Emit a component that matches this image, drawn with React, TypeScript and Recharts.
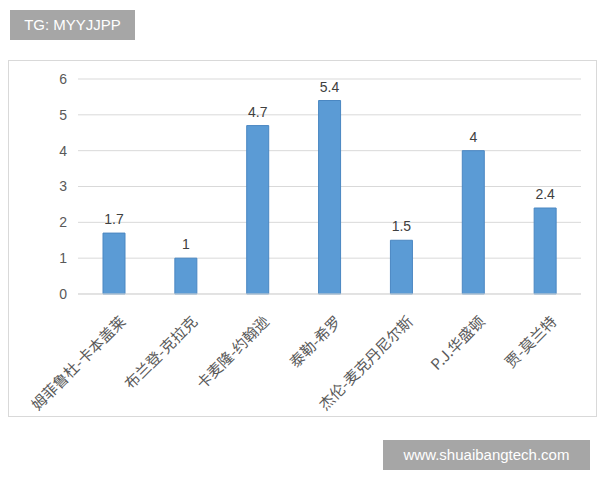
import React from 'react';
import { BarChart, Bar, XAxis, YAxis, CartesianGrid, LabelList } from 'recharts';

const players = ['姆菲鲁杜-卡本盖莱', '布兰登-克拉克', '卡麦隆-约翰逊', '泰勒-希罗', '杰伦-麦克丹尼尔斯', 'P.J.华盛顿', '贾-莫兰特'];
const values = [1.7, 1, 4.7, 5.4, 1.5, 4, 2.4];
const yTicks = [0, 1, 2, 3, 4, 5, 6];

const data = players.map((name, i) => ({ name, value: values[i] }));

const CJK = '"Noto Sans CJK SC", "Noto Sans", sans-serif';

const XTick = (props: any) => {
  const { x, y, payload } = props;
  return (
    <g transform={`translate(${x + 8},${y + 16})`}>
      <text
        x={0}
        y={0}
        textAnchor="end"
        transform="rotate(-45)"
        fontSize={15}
        fill="#595959"
        fontFamily={CJK}
        dominantBaseline="central"
      >
        {payload.value}
      </text>
    </g>
  );
};

export default function App() {
  return (
    <div style={{ position: 'absolute', left: 0, top: 0, width: 600, height: 480, background: '#fff', fontFamily: CJK }}>
      <div
        style={{
          position: 'absolute',
          left: 8,
          top: 60,
          width: 589,
          height: 357,
          border: '1px solid #d9d9d9',
          boxSizing: 'border-box',
        }}
      />
      <div style={{ position: 'absolute', left: 0, top: 0 }}>
        <BarChart width={600} height={480} data={data} margin={{ top: 79, right: 19, bottom: 0, left: 0 }} barSize={22}>
          <CartesianGrid vertical={false} stroke="#d9d9d9" />
          <XAxis
            dataKey="name"
            height={186}
            interval={0}
            tick={<XTick />}
            tickLine={false}
            axisLine={{ stroke: '#d9d9d9' }}
          />
          <YAxis
            width={78}
            domain={[0, 6]}
            ticks={yTicks}
            tickLine={false}
            axisLine={false}
            tickSize={0}
            tickMargin={11}
            tick={{ fontSize: 14, fill: '#595959', fontFamily: '"Liberation Sans", Arial, sans-serif' }}
          />
          <Bar dataKey="value" fill="#5b9bd5" stroke="#4a87c2" strokeWidth={1} isAnimationActive={false}>
            <LabelList
              dataKey="value"
              position="top"
              offset={9}
              style={{ fontSize: 14, fill: '#404040', fontFamily: '"Liberation Sans", Arial, sans-serif' }}
            />
          </Bar>
        </BarChart>
      </div>
      <div
        style={{
          position: 'absolute',
          left: 10,
          top: 10,
          width: 125,
          height: 30,
          background: '#a6a6a6',
          color: '#fff',
          fontSize: 15,
          lineHeight: '30px',
          textAlign: 'center',
          fontFamily: '"Liberation Sans", Arial, sans-serif',
        }}
      >
        TG: MYYJJPP
      </div>
      <div
        style={{
          position: 'absolute',
          left: 383,
          top: 440,
          width: 207,
          height: 30,
          background: '#a6a6a6',
          color: '#fff',
          fontSize: 15,
          lineHeight: '30px',
          textAlign: 'center',
          fontFamily: '"Liberation Sans", Arial, sans-serif',
        }}
      >
        www.shuaibangtech.com
      </div>
    </div>
  );
}
